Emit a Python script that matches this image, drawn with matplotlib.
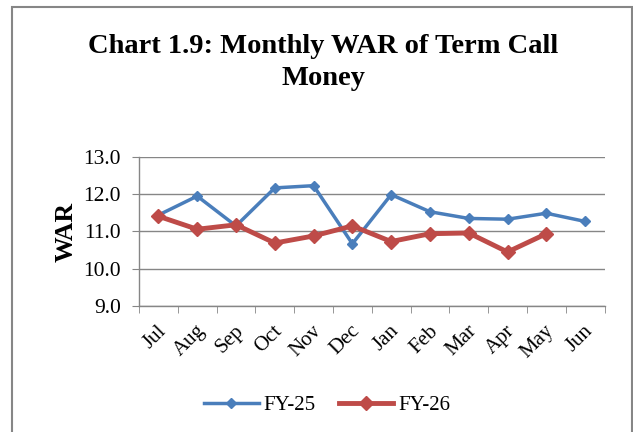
import matplotlib
matplotlib.use("Agg")
import matplotlib.pyplot as plt
from matplotlib.patches import Rectangle
from matplotlib.transforms import ScaledTranslation

# Data
months = ['Jul', 'Aug', 'Sep', 'Oct', 'Nov', 'Dec', 'Jan', 'Feb', 'Mar', 'Apr', 'May', 'Jun']
fy25 = [11.44, 11.95, 11.15, 12.17, 12.23, 10.67, 11.99, 11.53, 11.35, 11.33, 11.49, 11.27]
fy26 = [11.41, 11.06, 11.18, 10.69, 10.88, 11.15, 10.73, 10.94, 10.96, 10.45, 10.94]

plt.rcParams['font.family'] = ['Liberation Serif', 'DejaVu Serif']

fig = plt.figure(figsize=(6.33, 4.32), dpi=100)
ax = fig.add_axes([0.2196, 0.2917, 0.7354, 0.3449])

# Outer chart border
fig.patches.append(Rectangle((0.019, -0.01), 0.98, 0.994, transform=fig.transFigure,
                             fill=False, edgecolor='#868686', linewidth=1.5))

x25 = list(range(len(fy25)))
x26 = list(range(len(fy26)))
ax.plot(x25, fy25, color='#4A7EBB', linewidth=2.5, marker='D', markersize=5, label='FY-25', zorder=3)
ax.plot(x26, fy26, color='#BE4B48', linewidth=3.5, marker='D', markersize=7.5, label='FY-26', zorder=4)

ax.set_xlim(-0.5, len(months) - 0.5)
ax.set_ylim(9.0, 13.0)
ax.set_yticks([9.0, 10.0, 11.0, 12.0, 13.0])
ax.set_yticklabels(['9.0', '10.0', '11.0', '12.0', '13.0'], fontsize=15.5)
ax.set_xticks(x25)
ax.set_xticklabels(months, rotation=45, fontsize=15, ha='right', va='center',
                   rotation_mode='anchor')
ax.set_xticks([i - 0.5 for i in range(len(months) + 1)], minor=True)
ax.tick_params(axis='x', which='major', length=0, pad=16)
ax.tick_params(axis='x', which='minor', length=5, color='#868686')
ax.tick_params(axis='y', length=5, color='#868686', pad=8)

# nudge month labels a little right (after tick_params, which resets transforms)
for lbl in ax.get_xticklabels():
    lbl.set_transform(lbl.get_transform() + ScaledTranslation(5 / 100, 0, fig.dpi_scale_trans))

ax.grid(axis='y', color='#868686', linewidth=1)
ax.set_axisbelow(True)
for s in ['top', 'right']:
    ax.spines[s].set_visible(False)
for s in ['left', 'bottom']:
    ax.spines[s].set_color('#868686')
    ax.spines[s].set_linewidth(1)

ax.set_ylabel('WAR', fontsize=18.5, fontweight='bold', labelpad=4)

fig.text(0.511, 0.877, 'Chart 1.9: Monthly WAR of Term Call', ha='center', va='baseline',
         fontsize=20.5, fontweight='bold')
fig.text(0.511, 0.803, 'Money', ha='center', va='baseline',
         fontsize=20.5, fontweight='bold')

fig.legend(loc='center', bbox_to_anchor=(0.517, 0.0625), ncol=2, frameon=False,
           fontsize=15, handlelength=2.6, columnspacing=1.1, handletextpad=0.25)

plt.savefig('out.png', dpi=100)
